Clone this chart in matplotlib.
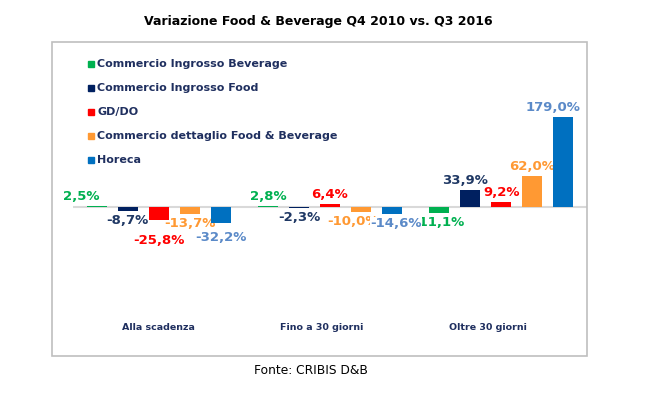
import matplotlib.pyplot as plt
import numpy as np
from matplotlib.patches import Rectangle
from matplotlib.transforms import blended_transform_factory

# data
categories = ["Alla scadenza", "Fino a 30 giorni", "Oltre 30 giorni"]
series = [
    "Commercio Ingrosso Beverage",
    "Commercio Ingrosso Food",
    "GD/DO",
    "Commercio dettaglio Food & Beverage",
    "Horeca",
]
ingrosso_beverage = [2.5, 2.8, -11.1]
ingrosso_food = [-8.7, -2.3, 33.9]
gd_do = [-25.8, 6.4, 9.2]
dettaglio_fb = [-13.7, -10.0, 62.0]
horeca = [-32.2, -14.6, 179.0]
values = [ingrosso_beverage, ingrosso_food, gd_do, dettaglio_fb, horeca]

bar_colors = ["#00B050", "#002060", "#FF0000", "#FF9933", "#0070C0"]
label_colors = ["#00B050", "#1F3864", "#FF0000", "#FF9933", "#5B8AC8"]
text_navy = "#1F2F5F"

W, H = 646, 393


def fx(px):
    return px / W


def fy(py):
    return 1 - py / H


fig = plt.figure(figsize=(W / 100, H / 100), dpi=100)
fig.patch.set_facecolor("white")

# outer box of the chart
fig.patches.append(
    Rectangle((fx(52), fy(356)), fx(587) - fx(52), fy(42) - fy(356),
              transform=fig.transFigure, fill=False, edgecolor="#BFBFBF", lw=1.2)
)

ax = fig.add_axes([fx(73), fy(356), fx(587) - fx(73), fy(42) - fy(356)])
ax.set_xlim(-0.5, 2.5)
ax.set_ylim(-296, 328)
ax.axis("off")

x = np.arange(len(categories))
step, width = 0.181, 0.117

# small manual nudges of some value labels (pixels), as in the original
nudges = {(0, 0): (-15, 0), (2, 0): (0, -11), (4, 0): (0, -5),
          (4, 1): (4, 0), (3, 1): (-8, 0), (4, 2): (-10, 0), (1, 2): (-5, 0)}

for s, (vals, bc, lc) in enumerate(zip(values, bar_colors, label_colors)):
    xs = x + (s - 2) * step
    ax.bar(xs, vals, width=width, color=bc, zorder=10)
    for c, (xi, v) in enumerate(zip(xs, vals)):
        dx, dy = nudges.get((s, c), (0, 0))
        txt = f"{v:.1f}%".replace(".", ",")
        ax.annotate(txt, (xi, v), xytext=(dx, (3 if v >= 0 else -3) + dy),
                    textcoords="offset pixels", ha="center",
                    va="bottom" if v >= 0 else "top",
                    color=lc, fontsize=9.5, fontweight="bold", zorder=3 + s,
                    bbox=dict(facecolor="white", edgecolor="none", pad=0))

ax.axhline(0, color="#D9D9D9", lw=1.5, zorder=1)

# category labels
cat_shift = [0.0, -0.05, -0.08]
trans = blended_transform_factory(ax.transData, fig.transFigure)
for xi, name, sh in zip(x, categories, cat_shift):
    ax.text(xi + sh, fy(327), name, transform=trans, ha="center", va="center",
            fontsize=6.8, fontweight="bold", color=text_navy)

# legend, drawn by hand like the original
for i, (name, bc) in enumerate(zip(series, bar_colors)):
    yy = 64 + i * 24
    fig.patches.append(
        Rectangle((fx(88), fy(yy + 3)), fx(6), fy(0) - fy(6),
                  transform=fig.transFigure, color=bc)
    )
    fig.text(fx(97), fy(yy), name, ha="left", va="center",
             fontsize=8, fontweight="bold", color=text_navy)

fig.text(fx(318), fy(22), "Variazione Food & Beverage Q4 2010 vs. Q3 2016",
         ha="center", va="center", fontsize=9, fontweight="bold", color="black")
fig.text(fx(311), fy(370), "Fonte: CRIBIS D&B", ha="center", va="center",
         fontsize=8.8, color="black")

fig.savefig("out.png", dpi=100)
